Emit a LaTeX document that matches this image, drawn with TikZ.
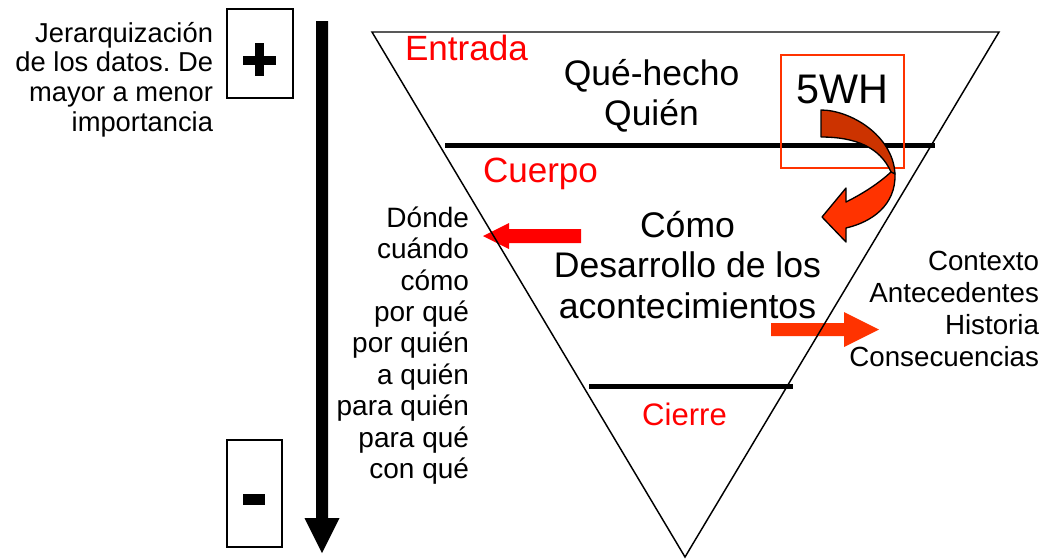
\documentclass[tikz,border=0pt]{standalone}
\usepackage{fontspec}
\setmainfont{Liberation Sans}
\definecolor{pureRed}{HTML}{FF0000}
\definecolor{orRed}{HTML}{FF3300}
\definecolor{darkRed}{HTML}{CC3300}
\frenchspacing
\begin{document}
\frenchspacing
\begin{tikzpicture}[x=0.75pt,y=-0.75pt,
  lbl/.style={inner sep=0pt, outer sep=0pt},
  smalltxt/.style={lbl, font=\fontsize{20.8}{23.6}\selectfont},
  bigtxt/.style={lbl, font=\fontsize{26.6}{30.6}\selectfont},
  redtxt/.style={lbl, text=pureRed, font=\fontsize{26.3}{30}\selectfont},
  thinbox/.style={draw=black, line width=1pt},
  divider/.style={line width=3.75pt, draw=black},
  outl/.style={draw=black, line width=1pt, line join=round}]
\useasboundingbox (0,0) rectangle (1060,558);

% side arrows (under the triangle outline)
\fill[pureRed] (581,229) -- (509,229) -- (509,223) -- (483,236) -- (509,249) -- (509,243) -- (581,243) -- cycle;
\fill[orRed] (771,323) -- (844,323) -- (844,312) -- (879,329.5) -- (844,347) -- (844,336) -- (771,336) -- cycle;

% inverted triangle
\draw[line width=1.1pt, line join=miter] (372,32) -- (999,32) -- (685,557) -- cycle;

% dividers
\draw[divider] (445,145) -- (935,145);
\draw[divider] (589,386) -- (793,386);

% 5WH frame
\draw[draw=orRed, line width=1.1pt] (781,55) rectangle (904,168);

% curved arrow
\filldraw[fill=darkRed, outl] (821,110) .. controls (850,110) and (893,135) .. (895,174)
  -- (891,172) .. controls (880,147) and (855,137) .. (821,137) -- cycle;
\filldraw[fill=orRed, outl] (891,172) .. controls (878,184) and (862,194) .. (846,202)
  -- (846,188) -- (822,217) -- (846,242) -- (846,228)
  .. controls (872,222) and (896,205) .. (895,174) -- cycle;

% plus / minus boxes
\draw[thinbox] (227,9) rectangle (293,98);
\fill (243,55.5) rectangle (276,64.5);
\fill (255,43) rectangle (264,76);
\draw[thinbox] (227,440) rectangle (282,547);
\fill (243,494) rectangle (265,505);

% long black arrow
\fill (316,21) -- (328,21) -- (328,518) -- (339.5,518) -- (322,553) -- (304.5,518) -- (316,518) -- cycle;

% texts
\node[lbl, anchor=base east, font=\fontsize{20.5}{22.2}\selectfont] (jer) at (213,42.3)
  {\begin{tabular}[t]{@{}r@{}}Jerarquización\\de los datos. De\\mayor a menor\\importancia\end{tabular}};
\node[redtxt, anchor=base] (entrada) at (466.5,60) {Entrada};
\node[redtxt, anchor=base] (cuerpo) at (540.5,182) {Cuerpo};
\node[lbl, anchor=base, text=pureRed, font=\fontsize{23.3}{27}\selectfont] (cierre) at (684.5,425) {Cierre};
\node[bigtxt, anchor=base] (que) at (651.5,85)
  {\begin{tabular}[t]{@{}c@{}}Qué-hecho\\Quién\end{tabular}};
\node[lbl, anchor=base, font=\fontsize{31}{36}\selectfont] (wh) at (842,103) {5WH};
\node[bigtxt, anchor=base, font=\fontsize{26.7}{30.2}\selectfont] (como) at (687.5,237.7)
  {\begin{tabular}[t]{@{}c@{}}Cómo\\Desarrollo de los\\acontecimientos\end{tabular}};
\node[smalltxt, anchor=base east, font=\fontsize{21}{23.55}\selectfont] (donde) at (469,227.3)
  {\begin{tabular}[t]{@{}r@{}}Dónde\\cuándo\\cómo\\por qué\\por quién\\a quién\\para quién\\para qué\\con qué\end{tabular}};
\node[smalltxt, anchor=base east, font=\fontsize{20.8}{23.85}\selectfont] (contexto) at (1039,270.7)
  {\begin{tabular}[t]{@{}r@{}}Contexto\\Antecedentes\\Historia\\Consecuencias\end{tabular}};
\end{tikzpicture}
\end{document}
